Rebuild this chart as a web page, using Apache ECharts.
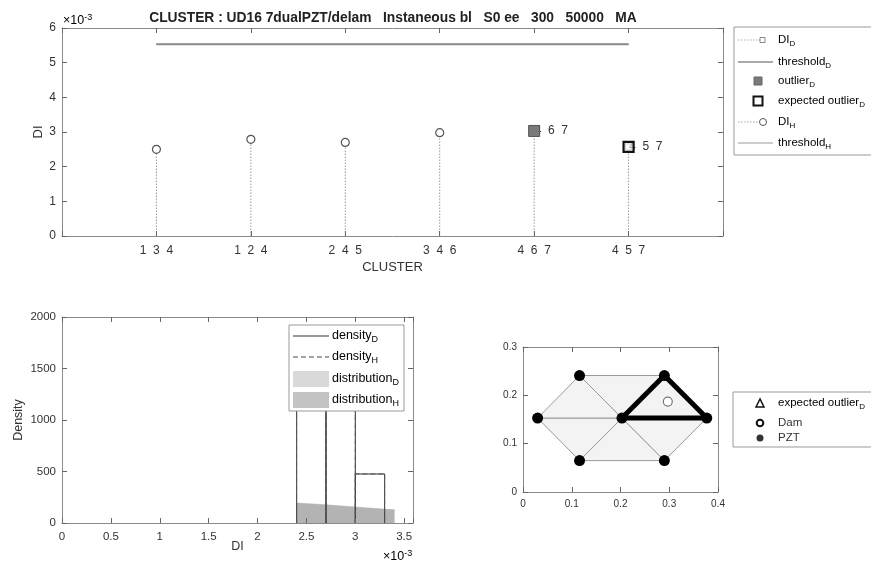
<!DOCTYPE html>
<html><head><meta charset="utf-8">
<script src="https://cdn.jsdelivr.net/npm/echarts@6/dist/echarts.min.js"></script>
<style>html,body{margin:0;padding:0;background:#fff}#c{width:871px;height:566px}</style>
</head><body><div id="c"></div>
<script>
// ---------- data ----------
const clusterX = [1, 2, 3, 4, 5, 6];
const clusterLabels = ['1  3  4', '1  2  4', '2  4  5', '3  4  6', '4  6  7', '4  5  7'];
const diHX = [1, 2, 3, 4];
const diHVals = [2.50, 2.79, 2.70, 2.98];          // x1e-3
const diDX = [5, 6];
const diDVals = [3.03, 2.57];                      // x1e-3
const outlierX = [5];
const outlierVals = [3.03];
const expectedX = [6];
const expectedVals = [2.57];
const thresholdX = [1, 6];
const thresholdD = [5.53, 5.53];
const thresholdH = [5.53, 5.53];

const binStart = [2.4, 2.7, 3.0];                  // x1e-3
const binEnd = [2.7, 3.0, 3.3];
const densityD = [1430, 1430, 476];
const densityH = [1430, 1430, 476];
const distX = [2.4, 2.7, 3.0, 3.3, 3.4];
const distD = [198, 182, 160, 139, 133];
const distH = [194, 178, 156, 136, 130];

const pztX = [0.030, 0.116, 0.116, 0.203, 0.290, 0.290, 0.377];
const pztY = [0.153, 0.241, 0.065, 0.153, 0.241, 0.065, 0.153];
const triangles = [[1,3,4],[1,2,4],[2,4,5],[3,4,6],[4,6,7],[4,5,7]];
const expectedTriangle = [4,5,7];
const damX = [0.297];
const damY = [0.187];

// ---------- helpers ----------
const FONT = '"Liberation Sans", Arial, Helvetica, sans-serif';
const TXT = '#333';
const AX = '#8a8a8a';
const labelMap = {};
clusterX.forEach((x, i) => { labelMap[x] = clusterLabels[i]; });
const zip = (a, b) => a.map((v, i) => [v, b[i]]);
const triData = triangles.map(t => [pztX[t[0]-1], pztY[t[0]-1], pztX[t[1]-1], pztY[t[1]-1], pztX[t[2]-1], pztY[t[2]-1]]);
const expTriData = [[pztX[expectedTriangle[0]-1], pztY[expectedTriangle[0]-1], pztX[expectedTriangle[1]-1], pztY[expectedTriangle[1]-1], pztX[expectedTriangle[2]-1], pztY[expectedTriangle[2]-1]]];

function mkAxis(o) {
  return {
    type: 'value', gridIndex: o.grid, min: o.min, max: o.max, interval: o.interval,
    position: o.position,
    axisLine: { show: true, onZero: false, lineStyle: { color: AX, width: 1 } },
    axisTick: { show: true, inside: true, length: 5, lineStyle: { color: '#666' } },
    splitLine: { show: false },
    axisLabel: o.label ? { show: true, color: TXT, fontSize: o.fs || 11, fontFamily: FONT, margin: o.margin || 6, formatter: o.formatter } : { show: false },
    name: o.name || '', nameLocation: 'middle', nameGap: o.nameGap || 20, nameMoveOverlap: false,
    nameTextStyle: { color: TXT, fontSize: o.nfs || 13, fontFamily: FONT },
    z: 10
  };
}
const multipleOf = (v, s) => Math.abs(v / s - Math.round(v / s)) < 1e-6;

function stem(params, api) {
  const a = api.coord([api.value(0), 0]);
  const b = api.coord([api.value(0), api.value(1)]);
  return { type: 'line', shape: { x1: a[0], y1: a[1], x2: b[0], y2: b[1] }, style: { stroke: '#9a9a9a', lineWidth: 1, lineDash: [1.5, 1.5] } };
}
function hist(dash, color) {
  return function (params, api) {
    const p0 = api.coord([api.value(0), 0]);
    const p1 = api.coord([api.value(0), api.value(2)]);
    const p2 = api.coord([api.value(1), api.value(2)]);
    const p3 = api.coord([api.value(1), 0]);
    return { type: 'polyline', shape: { points: [p0, p1, p2, p3] }, style: { stroke: color, fill: null, lineWidth: 1, lineDash: dash } };
  };
}
function tri(stroke, fill, lw) {
  return function (params, api) {
    const pts = [api.coord([api.value(0), api.value(1)]), api.coord([api.value(2), api.value(3)]), api.coord([api.value(4), api.value(5)])];
    return { type: 'polygon', shape: { points: pts }, style: { stroke: stroke, fill: fill, lineWidth: lw, lineJoin: 'round' } };
  };
}

const rich = (fs) => ({
  a: { fontSize: fs, fontFamily: FONT, color: TXT, lineHeight: 16 },
  s: { fontSize: Math.round(fs * 0.72), fontFamily: FONT, color: TXT, verticalAlign: 'bottom', lineHeight: 9 }
});
function legText(x, y, main, sub, fs) {
  return { type: 'text', x: x, y: y, z: 101, style: { text: '{a|' + main + '}{s|' + sub + '}', rich: rich(fs), verticalAlign: 'middle', align: 'left' } };
}
const expRich = { a: { fontSize: 12.5, fontFamily: FONT, color: '#444', lineHeight: 15 }, p: { fontSize: 9, fontFamily: FONT, color: '#444', verticalAlign: 'top', lineHeight: 9 } };

const chart = echarts.init(document.getElementById('c'), null, { renderer: 'canvas' });
const option = {
  animation: false,
  backgroundColor: '#fff',
  grid: [
    { left: 62, top: 28, width: 661, height: 208 },
    { left: 62, top: 317, width: 351, height: 206 },
    { left: 523, top: 347, width: 195, height: 145 }
  ],
  xAxis: [
    mkAxis({ grid: 0, min: 0, max: 7, interval: 1, position: 'bottom', label: true, fs: 12, margin: 9, formatter: v => labelMap[v] || '', name: 'CLUSTER', nameGap: 25, nfs: 13 }),
    mkAxis({ grid: 0, min: 0, max: 7, interval: 1, position: 'top' }),
    mkAxis({ grid: 1, min: 0, max: 3.59, interval: 0.5, position: 'bottom', label: true, fs: 11.5, margin: 8, formatter: v => multipleOf(v, 0.5) ? String(+v.toFixed(1)) : '', name: 'DI', nameGap: 17, nfs: 12.5 }),
    mkAxis({ grid: 1, min: 0, max: 3.59, interval: 0.5, position: 'top' }),
    mkAxis({ grid: 2, min: 0, max: 0.4, interval: 0.1, position: 'bottom', label: true, fs: 10, margin: 7, formatter: v => String(+v.toFixed(1)) }),
    mkAxis({ grid: 2, min: 0, max: 0.4, interval: 0.1, position: 'top' })
  ],
  yAxis: [
    mkAxis({ grid: 0, min: 0, max: 6, interval: 1, position: 'left', label: true, fs: 12, margin: 6, formatter: v => String(v), name: 'DI', nameGap: 17, nfs: 13 }),
    mkAxis({ grid: 0, min: 0, max: 6, interval: 1, position: 'right' }),
    mkAxis({ grid: 1, min: 0, max: 2000, interval: 500, position: 'left', label: true, fs: 11.5, margin: 6, formatter: v => String(v), name: 'Density', nameGap: 37, nfs: 12.5 }),
    mkAxis({ grid: 1, min: 0, max: 2000, interval: 500, position: 'right' }),
    mkAxis({ grid: 2, min: 0, max: 0.3, interval: 0.1, position: 'left', label: true, fs: 10, margin: 6, formatter: v => String(+v.toFixed(1)) }),
    mkAxis({ grid: 2, min: 0, max: 0.3, interval: 0.1, position: 'right' })
  ],
  series: [
    // ---- top: cluster DI ----
    { name: 'stemH', type: 'custom', xAxisIndex: 0, yAxisIndex: 0, encode: { x: 0, y: 1 }, data: zip(diHX, diHVals), renderItem: stem, z: 2 },
    { name: 'stemD', type: 'custom', xAxisIndex: 0, yAxisIndex: 0, encode: { x: 0, y: 1 }, data: zip(diDX, diDVals), renderItem: stem, z: 2 },
    { name: 'thresholdD', type: 'line', xAxisIndex: 0, yAxisIndex: 0, data: zip(thresholdX, thresholdD), symbol: 'none', lineStyle: { color: '#666', width: 1.5 }, z: 3 },
    { name: 'thresholdH', type: 'line', xAxisIndex: 0, yAxisIndex: 0, data: zip(thresholdX, thresholdH), symbol: 'none', lineStyle: { color: '#8c8c8c', width: 1.8 }, z: 3 },
    { name: 'DI_H', type: 'scatter', xAxisIndex: 0, yAxisIndex: 0, data: zip(diHX, diHVals), symbol: 'circle', symbolSize: 8,
      itemStyle: { color: '#fff', borderColor: '#555', borderWidth: 1.2, opacity: 1 }, z: 4 },
    { name: 'DI_D', type: 'scatter', xAxisIndex: 0, yAxisIndex: 0, data: zip(diDX, diDVals), symbol: 'rect', symbolSize: 6,
      itemStyle: { color: '#fff', borderColor: '#888', borderWidth: 1, opacity: 1 },
      label: { show: true, position: 'insideLeft', distance: 0, offset: [4, 0], color: '#333', fontSize: 12, fontFamily: FONT,
        formatter: p => labelMap[p.value[0]] }, z: 4 },
    { name: 'outlier_D', type: 'scatter', xAxisIndex: 0, yAxisIndex: 0, data: zip(outlierX, outlierVals), symbol: 'rect', symbolSize: 11,
      itemStyle: { color: '#7a7a7a', borderColor: '#555', borderWidth: 1, opacity: 1 }, z: 6 },
    { name: 'expected_D', type: 'scatter', xAxisIndex: 0, yAxisIndex: 0, data: zip(expectedX, expectedVals), symbol: 'rect', symbolSize: 10,
      itemStyle: { color: 'rgba(255,255,255,0.6)', borderColor: '#111', borderWidth: 2.2, opacity: 1 }, z: 7 },

    // ---- bottom-left: histogram / density ----
    { name: 'distribution_D', type: 'line', xAxisIndex: 2, yAxisIndex: 2, data: zip(distX, distD), symbol: 'none',
      lineStyle: { width: 0 }, areaStyle: { color: '#d6d6d6', opacity: 1 }, z: 2 },
    { name: 'distribution_H', type: 'line', xAxisIndex: 2, yAxisIndex: 2, data: zip(distX, distH), symbol: 'none',
      lineStyle: { width: 0 }, areaStyle: { color: '#b3b3b3', opacity: 1 }, z: 3 },
    { name: 'density_D', type: 'custom', xAxisIndex: 2, yAxisIndex: 2, encode: { x: [0, 1], y: 2 },
      data: binStart.map((s, i) => [s, binEnd[i], densityD[i]]), renderItem: hist(null, '#333'), z: 4 },
    { name: 'density_H', type: 'custom', xAxisIndex: 2, yAxisIndex: 2, encode: { x: [0, 1], y: 2 },
      data: binStart.map((s, i) => [s, binEnd[i], densityH[i]]), renderItem: hist([5, 3], '#555'), z: 5 },

    // ---- bottom-right: sensor layout ----
    { name: 'mesh', type: 'custom', xAxisIndex: 4, yAxisIndex: 4, encode: { x: [0, 2, 4], y: [1, 3, 5] },
      data: triData, renderItem: tri('#9a9a9a', '#f3f3f3', 1), z: 2 },
    { name: 'expectedTri', type: 'custom', xAxisIndex: 4, yAxisIndex: 4, encode: { x: [0, 2, 4], y: [1, 3, 5] },
      data: expTriData, renderItem: tri('#000', null, 5), z: 3 },
    { name: 'PZT', type: 'scatter', xAxisIndex: 4, yAxisIndex: 4, data: zip(pztX, pztY), symbol: 'circle', symbolSize: 11,
      itemStyle: { color: '#000', opacity: 1 }, z: 4 },
    { name: 'Dam', type: 'scatter', xAxisIndex: 4, yAxisIndex: 4, data: zip(damX, damY), symbol: 'circle', symbolSize: 9,
      itemStyle: { color: '#fff', borderColor: '#777', borderWidth: 1.2, opacity: 1 }, z: 4 }
  ],
  graphic: [
    // title
    { type: 'text', x: 393, y: 18, z: 100, style: { text: 'CLUSTER : UD16 7dualPZT/delam   Instaneous bl   S0 ee   300   50000   MA',
      font: 'bold 13.8px ' + FONT, fill: '#222', align: 'center', verticalAlign: 'middle' } },
    // x10^-3 labels
    { type: 'text', x: 63, y: 21, z: 100, style: { text: '{a|×10}{p|-3}', align: 'left', verticalAlign: 'middle', rich: expRich } },
    { type: 'text', x: 383, y: 557, z: 100, style: { text: '{a|×10}{p|-3}', align: 'left', verticalAlign: 'middle', rich: expRich } },

    // ---- top legend ----
    { type: 'rect', z: 100, shape: { x: 734, y: 27, width: 200, height: 128 }, style: { fill: '#fff', stroke: '#999', lineWidth: 1 } },
    { type: 'line', z: 101, shape: { x1: 738, y1: 40, x2: 760, y2: 40 }, style: { stroke: '#aaa', lineWidth: 1, lineDash: [1.5, 1.5] } },
    { type: 'rect', z: 101, shape: { x: 760, y: 37.5, width: 5, height: 5 }, style: { fill: '#fff', stroke: '#888', lineWidth: 1 } },
    legText(778, 40, 'DI', 'D', 11.5),
    { type: 'line', z: 101, shape: { x1: 738, y1: 62, x2: 773, y2: 62 }, style: { stroke: '#555', lineWidth: 1 } },
    legText(778, 62, 'threshold', 'D', 11.5),
    { type: 'rect', z: 101, shape: { x: 754, y: 77, width: 8, height: 8 }, style: { fill: '#7a7a7a', stroke: '#666', lineWidth: 1 } },
    legText(778, 81, 'outlier', 'D', 11.5),
    { type: 'rect', z: 101, shape: { x: 753.5, y: 96.5, width: 9, height: 9 }, style: { fill: '#fff', stroke: '#111', lineWidth: 2 } },
    legText(778, 101, 'expected outlier', 'D', 11.5),
    { type: 'line', z: 101, shape: { x1: 738, y1: 122, x2: 759, y2: 122 }, style: { stroke: '#aaa', lineWidth: 1, lineDash: [1.5, 1.5] } },
    { type: 'circle', z: 101, shape: { cx: 763, cy: 122, r: 3.5 }, style: { fill: '#fff', stroke: '#555', lineWidth: 1 } },
    legText(778, 122, 'DI', 'H', 11.5),
    { type: 'line', z: 101, shape: { x1: 738, y1: 143, x2: 773, y2: 143 }, style: { stroke: '#999', lineWidth: 1 } },
    legText(778, 143, 'threshold', 'H', 11.5),

    // ---- bottom-left legend ----
    { type: 'rect', z: 100, shape: { x: 289, y: 325, width: 115, height: 86 }, style: { fill: '#fff', stroke: '#999', lineWidth: 1 } },
    { type: 'line', z: 101, shape: { x1: 293, y1: 336, x2: 329, y2: 336 }, style: { stroke: '#333', lineWidth: 1 } },
    legText(332, 336, 'density', 'D', 12.5),
    { type: 'line', z: 101, shape: { x1: 293, y1: 357, x2: 329, y2: 357 }, style: { stroke: '#444', lineWidth: 1, lineDash: [5, 3] } },
    legText(332, 357, 'density', 'H', 12.5),
    { type: 'rect', z: 101, shape: { x: 293, y: 371, width: 36, height: 16 }, style: { fill: '#d9d9d9' } },
    legText(332, 379, 'distribution', 'D', 12.5),
    { type: 'rect', z: 101, shape: { x: 293, y: 392, width: 36, height: 16 }, style: { fill: '#c4c4c4' } },
    legText(332, 400, 'distribution', 'H', 12.5),

    // ---- bottom-right legend ----
    { type: 'rect', z: 100, shape: { x: 733, y: 392, width: 200, height: 55 }, style: { fill: '#fff', stroke: '#999', lineWidth: 1 } },
    { type: 'polygon', z: 101, shape: { points: [[760, 399], [756, 407], [764, 407]] }, style: { fill: '#fff', stroke: '#111', lineWidth: 1.5 } },
    legText(778, 403, 'expected outlier', 'D', 11.5),
    { type: 'circle', z: 101, shape: { cx: 760, cy: 423, r: 3.3 }, style: { fill: '#fff', stroke: '#111', lineWidth: 2 } },
    { type: 'text', z: 101, x: 778, y: 423, style: { text: 'Dam', font: '11.5px ' + FONT, fill: TXT, verticalAlign: 'middle' } },
    { type: 'circle', z: 101, shape: { cx: 760, cy: 438, r: 3.5 }, style: { fill: '#333' } },
    { type: 'text', z: 101, x: 778, y: 438, style: { text: 'PZT', font: '11.5px ' + FONT, fill: TXT, verticalAlign: 'middle' } }
  ]
};
chart.setOption(option);
</script></body></html>
